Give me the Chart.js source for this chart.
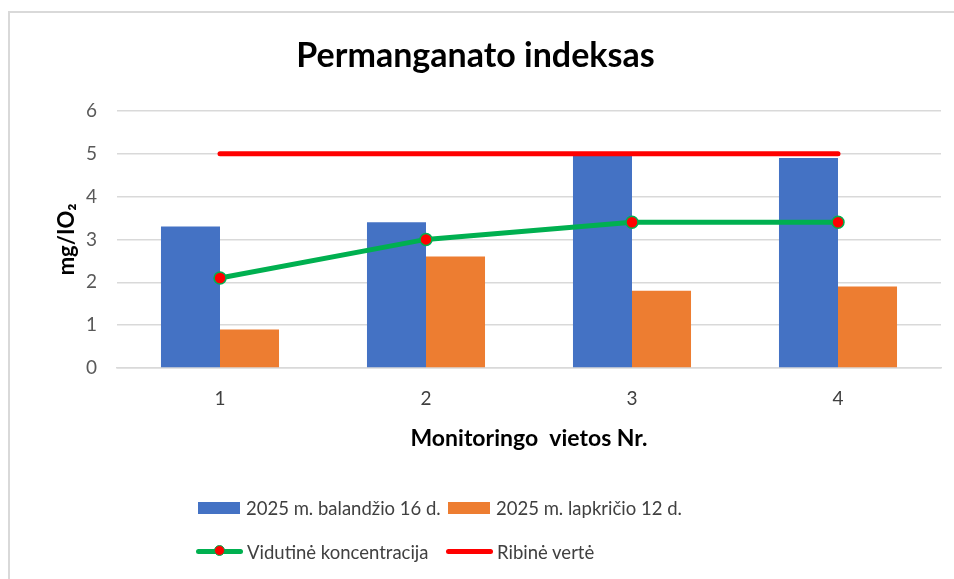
<!DOCTYPE html>
<html lang="lt">
<head>
<meta charset="utf-8">
<title>Permanganato indeksas</title>
<script src="https://cdn.jsdelivr.net/npm/chart.js@4.4.1/dist/chart.umd.min.js"></script>
<style>
  body { margin: 0; background: #fff; overflow: hidden; }
  #frame {
    position: absolute; left: 8px; top: 11px; width: 2000px; height: 2000px;
    border-left: 2px solid #d9d9d9; border-top: 2px solid #d9d9d9;
  }
  .wrap { position: absolute; left: 0; top: 0; width: 954px; height: 579px; }
  #legend {
    position: absolute; left: 196px; top: 494px;
    display: grid; grid-template-columns: 250px auto; row-gap: 17px;
    font-family: Lato, "Liberation Sans", sans-serif; font-size: 18.5px; color: #404040;
  }
  .item { display: flex; align-items: center; height: 27px; white-space: nowrap; }
  .box { width: 42px; height: 12px; margin: 0 6px 0 2px; }
  .line { position: relative; width: 47px; height: 5px; border-radius: 3px; margin-right: 4px; }
  .dot {
    position: absolute; left: 18px; top: -4px; width: 11px; height: 11px;
    border-radius: 50%; background: #ff0000; box-sizing: border-box; border: 1px solid #00b050;
  }
</style>
</head>
<body>
<div id="frame"></div>
<div class="wrap"><canvas id="myChart" width="954" height="579"></canvas></div>
<div id="legend"></div>
<script>
// Duomenys
const categories = ["1", "2", "3", "4"];
const balandzio = [3.3, 3.4, 5.0, 4.9];
const lapkricio = [0.9, 2.6, 1.8, 1.9];
const vidutine = [2.1, 3.0, 3.4, 3.4];
const ribine = [5, 5, 5, 5];

const FONT = "Lato, 'Liberation Sans', sans-serif";

const ctx = document.getElementById("myChart").getContext("2d");

// linijos turi mažesnį order, kad būtų piešiamos virš stulpelių
const chart = new Chart(ctx, {
  type: "bar",
  data: {
    labels: categories,
    datasets: [
      {
        label: "2025 m. balandžio 16 d.",
        data: balandzio,
        backgroundColor: "#4472C4",
        order: 2,
      },
      {
        label: "2025 m. lapkričio 12 d.",
        data: lapkricio,
        backgroundColor: "#ED7D31",
        order: 3,
      },
      {
        type: "line",
        label: "Vidutinė koncentracija",
        data: vidutine,
        borderColor: "#00B050",
        borderWidth: 5,
        pointRadius: 6,
        pointBorderWidth: 1.5,
        pointBackgroundColor: "#FF0000",
        pointBorderColor: "#00B050",
        tension: 0,
        order: 0,
      },
      {
        type: "line",
        label: "Ribinė vertė",
        data: ribine,
        borderColor: "#FF0000",
        borderWidth: 5,
        borderCapStyle: "round",
        pointRadius: 0,
        order: 1,
      },
    ],
  },
  options: {
    responsive: false,
    animation: false,
    layout: { padding: { left: 10, right: 13, top: 12, bottom: 121 } },
    datasets: {
      bar: { categoryPercentage: 0.573, barPercentage: 1 },
    },
    plugins: {
      legend: { display: false },
      tooltip: { enabled: false },
      title: {
        display: true,
        text: "Permanganato indeksas",
        color: "#000",
        font: { family: FONT, size: 34, weight: "bold" },
        padding: { top: 24, bottom: 34 },
      },
    },
    scales: {
      x: {
        grid: { display: false },
        border: { color: "#d9d9d9", width: 1.5 },
        ticks: { color: "#404040", padding: 11, font: { family: FONT, size: 19 } },
        title: {
          display: true,
          text: "Monitoringo  vietos Nr.",
          color: "#000",
          font: { family: FONT, size: 23, weight: "bold" },
          padding: { top: 0, bottom: 6 },
        },
        afterFit: (scale) => { scale.height = 90; },
      },
      y: {
        min: 0,
        max: 6,
        grid: { color: "#d9d9d9", lineWidth: 1.5, drawTicks: false },
        border: { display: false },
        ticks: { stepSize: 1, color: "#595959", padding: 20, font: { family: FONT, size: 19 } },
        title: {
          display: true,
          text: "mg/IO₂",
          color: "#000",
          font: { family: FONT, size: 22, weight: "bold" },
          padding: { top: 44, bottom: 0 },
        },
        afterFit: (scale) => { scale.width = 107; },
      },
    },
  },
});

// Legenda dviem eilutėmis
const legendDiv = document.getElementById("legend");
chart.data.datasets.forEach((ds) => {
  const item = document.createElement("div");
  item.className = "item";
  if (ds.type === "line") {
    const line = document.createElement("span");
    line.className = "line";
    line.style.background = ds.borderColor;
    if (ds.pointRadius > 0) {
      const dot = document.createElement("span");
      dot.className = "dot";
      line.appendChild(dot);
    }
    item.appendChild(line);
  } else {
    const box = document.createElement("span");
    box.className = "box";
    box.style.background = ds.backgroundColor;
    item.appendChild(box);
  }
  const txt = document.createElement("span");
  txt.textContent = ds.label;
  item.appendChild(txt);
  legendDiv.appendChild(item);
});
</script>
</body>
</html>
